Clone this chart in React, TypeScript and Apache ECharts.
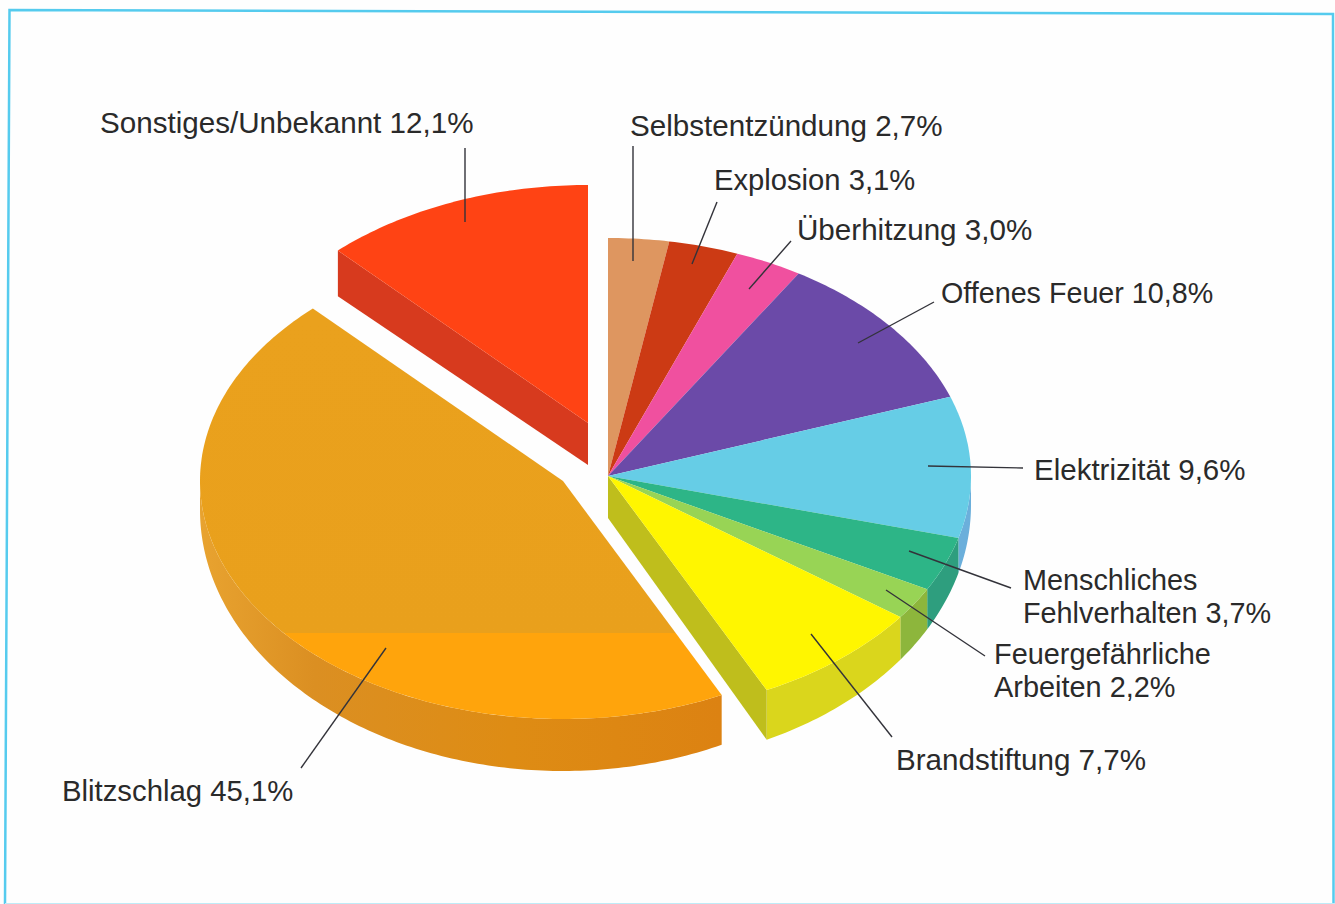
import React, { useEffect, useRef } from "react";
import * as echarts from "echarts";

// Brandursachen, im Uhrzeigersinn ab 12 Uhr
const categories = [
  "Selbstentzündung",
  "Explosion",
  "Überhitzung",
  "Offenes Feuer",
  "Elektrizität",
  "Menschliches\nFehlverhalten",
  "Feuergefährliche\nArbeiten",
  "Brandstiftung",
  "Blitzschlag",
  "Sonstiges/Unbekannt",
];
const shares = [2.7, 3.1, 3.0, 10.8, 9.6, 3.7, 2.2, 7.7, 45.1, 12.1];

const topColors = [
  "#DE9660", "#CC3A14", "#F0509F", "#6B4AA8", "#66CDE6",
  "#2DB587", "#98D455", "#FFF600", "#ECA31D", "#FF4314",
];
const rimColors = [
  "#C88050", "#A82E10", "#C84080", "#553A88", "#6BAFDB",
  "#2E9E7E", "#8DB63C", "#DAD61C", "#DC8C18", "#D73A1E",
];

// Ellipse der Deckfläche und Verschiebung der drei Tortengruppen
const RX = 363;
const RY = 238;
const mainHub = { x: 608, y: 476 };
const lightningHub = { x: 563, y: 481 };
const otherHub = { x: 588, y: 423 };
const hubs = [
  mainHub, mainHub, mainHub, mainHub, mainHub, mainHub, mainHub, mainHub,
  lightningHub, otherHub,
];
const HUB_DEPTH = 42;
const WALL_COLOR_BRAND = "#BFBE1C";

// Beschriftungen: Textanker, Schriftgröße und Führungslinie je Segment
const labelAnchors = [
  [630, 125], [714, 180], [797, 229], [941, 293], [1034, 469],
  [1023, 580], [994, 654], [896, 759], [62, 790], [100, 122],
];
const labelSizes = [29.6, 29.2, 29.6, 28.7, 29.5, 28.8, 28.9, 29.6, 29.3, 29.6];
const leaderLines = [
  [633, 146, 633, 261], [717, 202, 692, 264], [791, 241, 749, 289],
  [934, 302, 858, 343], [1023, 468, 928, 466], [1011, 588, 909, 551],
  [985, 656, 886, 590], [892, 737, 811, 634], [301, 768, 386, 648],
  [465, 148, 465, 222],
];
const LINE_HEIGHT = 33;

const total = shares.reduce((a, b) => a + b, 0);
const startAngles = shares.map((_, i) =>
  (shares.slice(0, i).reduce((a, b) => a + b, 0) / total) * Math.PI * 2
);

const formatShare = (v: number) => v.toFixed(1).replace(".", ",") + "%";

function topPoint(hub: { x: number; y: number }, t: number) {
  return [hub.x + RX * Math.sin(t), hub.y - RY * Math.cos(t)];
}

// Die Kante wirkt perspektivisch vorn höher als an den Seiten
function bottomPoint(hub: { x: number; y: number }, t: number) {
  const [x, y] = topPoint(hub, t);
  return [x, y + 29 + 23 * Math.abs(Math.cos(t))];
}

function arc(fn: (t: number) => number[], from: number, to: number) {
  const steps = Math.max(2, Math.ceil(Math.abs(to - from) / 0.015));
  const pts: number[][] = [];
  for (let i = 0; i <= steps; i++) pts.push(fn(from + ((to - from) * i) / steps));
  return pts;
}

function renderSlice(params: any, api: any) {
  const i = params.dataIndex;
  const value = api.value(0);
  const hub = hubs[i];
  const from = startAngles[i];
  const to = from + (value / total) * Math.PI * 2;
  const children: any[] = [];

  // Außenkante, nur die untere Hälfte ist sichtbar
  const rimFrom = Math.max(from, Math.PI / 2);
  const rimTo = Math.min(to, (Math.PI * 3) / 2);
  if (rimTo > rimFrom) {
    const upper = arc((t) => topPoint(hub, t), rimFrom, rimTo);
    const lower = arc((t) => bottomPoint(hub, t), rimTo, rimFrom);
    const fill =
      i === 8
        ? new echarts.graphic.LinearGradient(
            200, 0, 720, 0,
            [
              { offset: 0, color: "#E8A330" },
              { offset: 0.22, color: "#DB8F22" },
              { offset: 0.6, color: "#DE8C14" },
              { offset: 1, color: "#DC8212" },
            ],
            true
          )
        : rimColors[i];
    children.push({
      type: "polygon",
      shape: { points: upper.concat(lower) },
      style: { fill },
    });
  }

  // Schnittflächen, die zum Betrachter zeigen
  const wallAngle = i === 7 ? to : i === 9 ? from : null;
  if (wallAngle !== null) {
    children.push({
      type: "polygon",
      shape: {
        points: [
          [hub.x, hub.y],
          topPoint(hub, wallAngle),
          bottomPoint(hub, wallAngle),
          [hub.x, hub.y + HUB_DEPTH],
        ],
      },
      style: { fill: i === 7 ? WALL_COLOR_BRAND : rimColors[i] },
    });
  }

  // Deckfläche
  const fillTop =
    i === 8
      ? new echarts.graphic.LinearGradient(
          0, 0, 0, 904,
          [
            { offset: 0, color: "#EBA21E" },
            { offset: 633 / 904, color: "#E9A01C" },
            { offset: 633 / 904, color: "#FFA40C" },
            { offset: 1, color: "#FFA40C" },
          ],
          true
        )
      : topColors[i];
  children.push({
    type: "polygon",
    shape: { points: [[hub.x, hub.y], ...arc((t) => topPoint(hub, t), from, to)] },
    style: { fill: fillTop },
  });

  return { type: "group", children };
}

export default function App() {
  const ref = useRef<HTMLDivElement>(null);

  useEffect(() => {
    document.body.style.margin = "0";
    document.body.style.background = "#ffffff";
    const chart = echarts.init(ref.current!, undefined, { renderer: "svg" });

    const texts: any[] = [];
    categories.forEach((name, i) => {
      const lines = `${name} ${formatShare(shares[i])}`.split("\n");
      lines.forEach((line, k) => {
        texts.push({
          type: "text",
          x: labelAnchors[i][0],
          y: labelAnchors[i][1] + k * LINE_HEIGHT,
          z: 10,
          style: {
            text: line,
            fill: "#2a2a2a",
            font: `${labelSizes[i]}px "Liberation Sans", Arial, sans-serif`,
            textAlign: "left",
            textVerticalAlign: "middle",
          },
        });
      });
    });

    const leaders = leaderLines.map(([x1, y1, x2, y2]) => ({
      type: "line",
      z: 9,
      shape: { x1, y1, x2, y2 },
      style: { stroke: "#33333a", lineWidth: 1.4 },
    }));

    // Leicht schiefer hellblauer Rahmen
    const frame = {
      type: "polyline",
      z: 1,
      shape: { points: [[5, 904], [9.5, 10], [1333, 14], [1333.5, 904]] },
      style: { stroke: "#55CBEE", lineWidth: 2.5, fill: "none" },
    };
    const frameBottom = {
      type: "line",
      z: 1,
      shape: { x1: 5, y1: 903.5, x2: 1335, y2: 903.5 },
      style: { stroke: "#BFEBF7", lineWidth: 1 },
    };

    chart.setOption({
      animation: false,
      backgroundColor: "#FEFEFE",
      graphic: { elements: [frame, frameBottom, ...leaders, ...texts] },
      series: [
        {
          type: "custom",
          coordinateSystem: "none",
          renderItem: renderSlice,
          data: shares.map((v) => [v]),
          silent: true,
          z: 5,
        },
      ],
    });
    return () => chart.dispose();
  }, []);

  return (
    <div
      ref={ref}
      style={{ position: "absolute", left: 0, top: 0, width: 1335, height: 904 }}
    />
  );
}
